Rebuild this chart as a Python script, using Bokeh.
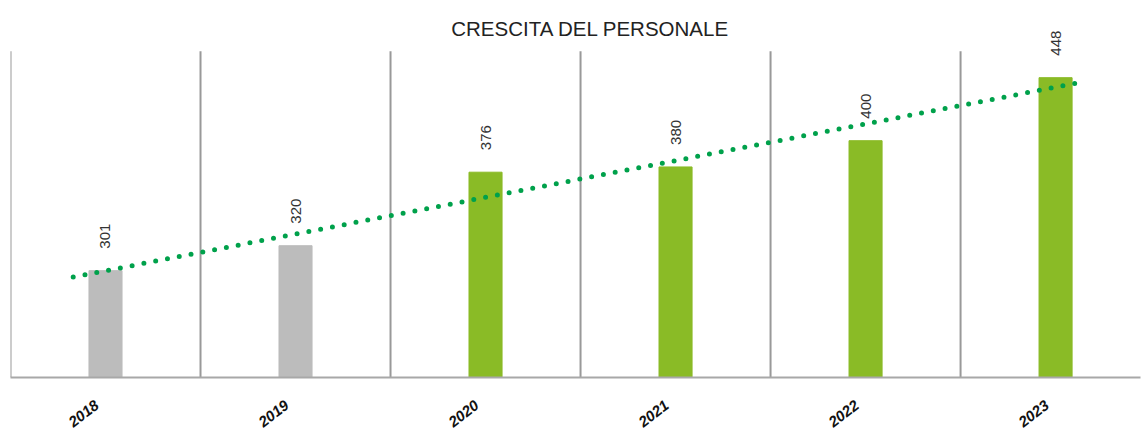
import numpy as np
from bokeh.plotting import figure
from bokeh.models import ColumnDataSource, FixedTicker, LabelSet, Range1d
from bokeh.core.properties import value
from bokeh.embed import file_html
from bokeh.resources import INLINE

# ---- data ----
years = ["2018", "2019", "2020", "2021", "2022", "2023"]
staff = [301, 320, 376, 380, 400, 448]
bar_colors = ["#bcbcbc", "#bcbcbc", "#8abb26", "#8abb26", "#8abb26", "#8abb26"]
title_text = "CRESCITA DEL PERSONALE"

pos = np.arange(len(years)) + 0.5
bounds = np.arange(len(years))
y0 = 219.6
sep_top = 468.1

src = ColumnDataSource(dict(x=pos, top=staff, color=bar_colors,
                            label=[str(v) for v in staff]))

p = figure(width=1142, height=434, output_backend="svg", toolbar_location=None,
           x_range=Range1d(0, 5.947), y_range=Range1d(y0, 506.8),
           min_border_left=10, min_border_right=2, min_border_top=0,
           min_border_bottom=50)
p.title.visible = False

p.outline_line_color = None
p.background_fill_color = "white"
p.border_fill_color = "white"
p.xgrid.grid_line_color = None
p.ygrid.grid_line_color = None

# title drawn inside the (tall) frame
p.text(x=[3.053], y=[485.2], text=[title_text], text_align="center",
       text_baseline="alphabetic", text_font=value("Liberation Sans"),
       text_font_size="20.5px", text_color="#222222")

# column separators
p.segment(x0=bounds, y0=y0, x1=bounds, y1=sep_top, line_color="#999999",
          line_width=2)

p.vbar(x="x", top="top", bottom=y0, width=0.174, color="color", source=src)

# trend line (linear fit of the values)
k, b = np.polyfit(pos, staff, 1)
tx = np.array([0.33, 5.62])
p.line(tx, k * tx + b, line_color="#00a14b", line_width=5, line_cap="round",
       line_dash="0 12")

labels = LabelSet(x="x", y="top", text="label", source=src, angle=np.pi / 2,
                  text_align="left", text_baseline="middle", y_offset=22,
                  text_font=value("Liberation Sans"), text_font_size="15px",
                  text_color="#333333")
p.add_layout(labels)

p.yaxis.visible = False

tick_pos = [float(x) for x in pos - 0.045]
p.xaxis.ticker = FixedTicker(ticks=tick_pos)
p.xaxis.major_label_overrides = {t: y for t, y in zip(tick_pos, years)}
p.xaxis.major_label_orientation = 0.65
p.xaxis.major_label_text_font = "Liberation Sans"
p.xaxis.major_label_text_font_size = "15px"
p.xaxis.major_label_text_font_style = "bold italic"
p.xaxis.major_label_text_color = "#111111"
p.xaxis.major_label_standoff = 20
p.xaxis.major_tick_line_color = None
p.xaxis.minor_tick_line_color = None
p.xaxis.axis_line_color = "#a8a8a8"
p.xaxis.axis_line_width = 2

open("out.html", "w").write(file_html(p, INLINE))
